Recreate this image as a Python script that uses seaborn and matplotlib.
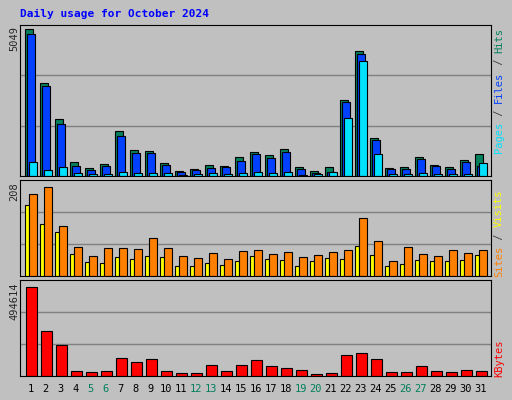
import numpy as np
import pandas as pd
import matplotlib
matplotlib.use("Agg")
import matplotlib.pyplot as plt
import seaborn as sns

days = list(range(1, 32))
weekend = [5, 6, 12, 13, 19, 20, 26, 27]

# values
hits = [5049, 3195, 1958, 481, 275, 412, 1546, 893, 859, 447, 172, 240, 378, 344, 653, 824, 721, 927, 309, 172, 309, 2611, 4297, 1305, 275, 309, 653, 378, 309, 550, 756]
files = [4877, 3091, 1786, 344, 206, 344, 1374, 790, 790, 378, 137, 206, 275, 309, 516, 756, 618, 824, 240, 103, 137, 2542, 4194, 1236, 240, 240, 584, 344, 240, 481, 344]
pages = [481, 206, 309, 103, 69, 69, 137, 103, 103, 103, 34, 69, 103, 69, 103, 137, 103, 137, 34, 69, 137, 2015, 3962, 756, 69, 69, 103, 69, 69, 69, 447]
visits = [166, 122, 103, 52, 34, 32, 45, 41, 48, 45, 24, 24, 32, 27, 36, 48, 41, 38, 24, 36, 43, 41, 70, 50, 24, 29, 38, 36, 36, 38, 50]
sites = [192, 208, 118, 68, 48, 66, 66, 63, 90, 66, 48, 43, 54, 41, 59, 61, 52, 56, 45, 50, 56, 61, 136, 81, 36, 68, 52, 48, 61, 54, 61]
kbytes = [494614, 245530, 169750, 23470, 18050, 23470, 99250, 77600, 93840, 23470, 12640, 12640, 61350, 23470, 61350, 88420, 56000, 45150, 34330, 7220, 12640, 115490, 126320, 93840, 18050, 18050, 56000, 23470, 18050, 34330, 23470]

sns.set_style("white")
plt.rcParams["font.family"] = ["DejaVu Sans Mono"]
grey = "#c0c0c0"
fig = plt.figure(figsize=(5.12, 4.0), dpi=100, facecolor=grey)

x = np.array(days)
left, width = 20 / 512, 470.7 / 512
xlim = (0.29, 31.67)


def panel(y0, y1, top):
    ax = fig.add_axes([left, 1 - y1 / 400, width, (y1 - y0) / 400])
    ax.set_facecolor(grey)
    ax.set_xlim(*xlim)
    ax.set_ylim(0, top)
    for k in (1, 2):
        ax.axhline(top * k / 3, color="#808080", lw=1, zorder=0)
    ax.set_xticks([])
    ax.set_yticks([])
    for s in ax.spines.values():
        s.set_color("black")
    return ax


ax1 = panel(25, 176.3, max(hits) * 151.3 / 147)
bk = dict(edgecolor="black", linewidth=0.8)
ax1.bar(x - 0.12, hits, 0.49, color="#00805c", **bk)
ax1.bar(x + 0.02, files, 0.49, color="#0040ff", **bk)
ax1.bar(x + 0.16, pages, 0.49, color="#00e0ff", **bk)

ax2 = panel(180, 276.3, max(sites) * 99 / 92)
ax2.bar(x - 0.225, visits, 0.27, color="#ffff00", **bk)
ax2.bar(x + 0.155, sites, 0.49, color="#ff8000", **bk)

ax3 = panel(280, 375.7, max(kbytes) * 98 / 91.3)
df = pd.DataFrame({"day": x + 0.04, "kbytes": kbytes})
ax3.bar(df["day"], df["kbytes"], 0.71, color="#ff0000", **bk)
ax3.set_xlim(*xlim)
ax3.set_xticks(x)
ax3.set_xticklabels([str(d) for d in days], fontsize=7.5)
ax3.tick_params(axis="x", length=0, pad=6)
for t, d in zip(ax3.get_xticklabels(), days):
    t.set_color("#00805c" if d in weekend else "black")

fig.text(20 / 512, 1 - 14 / 400, "Daily usage for October 2024", color="#0000ff",
         fontsize=8, fontweight="bold", va="center")
for txt, ytop in (("5049", 26), ("208", 182), ("494614", 282)):
    fig.text(14 / 512, 1 - ytop / 400, txt, rotation=90, fontsize=7.5,
             ha="center", va="top")


def side(pieces, ybottom):
    cw = 6.27
    y = ybottom
    for s, c in pieces:
        fig.text(499 / 512, 1 - y / 400, s, rotation=90, color=c, fontsize=7.5,
                 ha="center", va="bottom")
        y -= cw * len(s)


side([("Pages", "#00e0ff"), (" / ", "#404040"), ("Files", "#0040ff"),
      (" / ", "#404040"), ("Hits", "#00805c")], 153)
side([("Sites", "#ff8000"), (" / ", "#404040"), ("Visits", "#ffff00")], 277)
side([("KBytes", "#ff0000")], 377)

fig.savefig("out.png", dpi=100, facecolor=grey)
